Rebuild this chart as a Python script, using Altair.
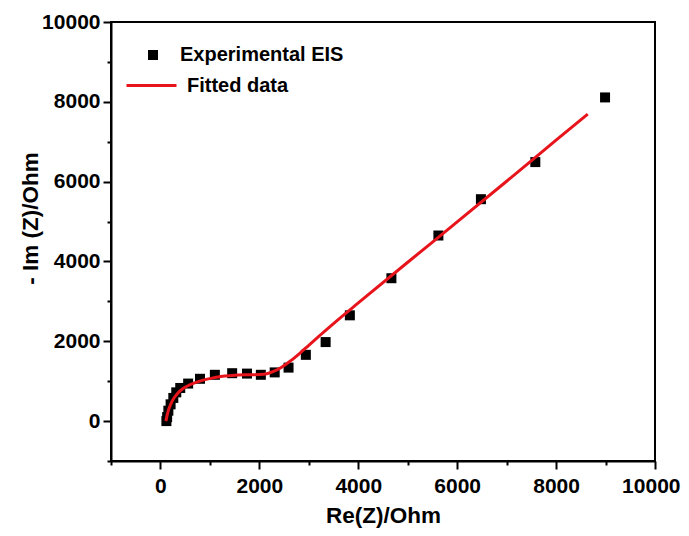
import altair as alt
import pandas as pd

# Experimental EIS points (Nyquist)
exp_re = [120, 135, 160, 205, 260, 320, 400, 560, 800, 1100, 1450, 1750, 2030, 2310, 2590, 2940, 3340, 3830, 4670, 5620, 6480, 7580, 8990]
exp_im = [0, 100, 260, 420, 580, 720, 830, 940, 1060, 1160, 1200, 1190, 1160, 1220, 1340, 1660, 1980, 2650, 3580, 4650, 5560, 6490, 8110]

# Fitted curve
fit_re = [110, 130, 160, 210, 270, 350, 450, 580, 720, 900, 1100, 1300, 1500, 1750, 2000, 2150, 2300, 2450, 2600, 2800, 3000, 3300, 3600, 4000, 5000, 6000, 7000, 8000, 8640]
fit_im = [0, 120, 270, 430, 570, 700, 810, 900, 970, 1040, 1090, 1130, 1150, 1160, 1165, 1185, 1250, 1350, 1480, 1680, 1900, 2230, 2550, 2960, 3980, 4990, 6010, 7040, 7690]

major_ticks = [0, 2000, 4000, 6000, 8000, 10000]
minor_ticks = [-1000, 1000, 3000, 5000, 7000, 9000]

exp_df = pd.DataFrame({"re": exp_re, "im": exp_im, "series": "Experimental EIS"})
fit_df = pd.DataFrame({"re": fit_re, "im": fit_im, "series": "Fitted data"})

FONT = "Liberation Sans"


def major_axis(title, orient, **kw):
    return alt.Axis(
        orient=orient,
        values=major_ticks,
        format="d",
        tickSize=8,
        tickWidth=2,
        tickColor="black",
        domainColor="black",
        domainWidth=2,
        grid=False,
        labelFont=FONT,
        labelFontWeight="bold",
        labelFontSize=21,
        labelColor="black",
        labelOverlap=False,
        title=title,
        titleFont=FONT,
        titleFontWeight="bold",
        titleFontSize=22.5,
        titleColor="black",
        **kw,
    )


def minor_axis(orient):
    return alt.Axis(
        orient=orient,
        values=minor_ticks,
        tickSize=4,
        tickWidth=2,
        tickColor="black",
        domain=False,
        grid=False,
        labels=False,
        title=None,
    )


xscale = alt.Scale(domain=[-1000, 10000], nice=False, zero=False)
yscale = alt.Scale(domain=[-1000, 10000], nice=False, zero=False)

xaxis = major_axis("Re(Z)/Ohm", "bottom", labelPadding=6, labelFlush=True, labelFlushOffset=25,
                   titleY=54, titleBaseline="middle")
yaxis = major_axis("- Im (Z)/Ohm", "left", labelPadding=3, labelFlush=False, titleX=-81, titleY=196,
                   titleBaseline="middle", titleAngle=-90)

points = alt.Chart(exp_df).mark_square(size=100, opacity=1).encode(
    x=alt.X("re:Q", scale=xscale, axis=xaxis),
    y=alt.Y("im:Q", scale=yscale, axis=yaxis),
    fill=alt.Fill("series:N", scale=alt.Scale(domain=["Experimental EIS"], range=["black"]),
                  legend=alt.Legend(title=None, orient="none", legendX=32, legendY=23,
                                    symbolType="square", symbolSize=100, symbolStrokeWidth=0,
                                    labelFont=FONT, labelFontWeight="bold", labelFontSize=20,
                                    labelColor="black", labelOffset=17, labelLimit=0, padding=0)),
)

line = alt.Chart(fit_df).mark_line(strokeWidth=3, interpolate="monotone").encode(
    x=alt.X("re:Q", scale=xscale, axis=None),
    y=alt.Y("im:Q", scale=yscale, axis=None),
    stroke=alt.Stroke("series:N", scale=alt.Scale(domain=["Fitted data"], range=["#e8141c"]),
                      legend=alt.Legend(title=None, orient="none", legendX=14, legendY=37,
                                        symbolType="stroke", symbolSize=2500, symbolStrokeWidth=3,
                                        labelFont=FONT, labelFontWeight="bold", labelFontSize=20,
                                        labelColor="black", labelOffset=9, labelLimit=0, padding=0)),
)

minor = alt.Chart(exp_df).mark_point(opacity=0).encode(
    x=alt.X("re:Q", scale=xscale, axis=minor_axis("bottom")),
    y=alt.Y("im:Q", scale=yscale, axis=minor_axis("left")),
)

chart = alt.layer(points, line, minor).resolve_scale(
    fill="independent", stroke="independent"
).resolve_axis(x="independent", y="independent").properties(
    width=544,
    height=439,
    autosize=alt.AutoSizeParams(type="none"),
    padding={"left": 103, "top": 14, "right": 26, "bottom": 67},
    background="white",
).configure_view(stroke="black", strokeWidth=2)

chart.save("out.html", embed_options={"renderer": "svg", "actions": False})
